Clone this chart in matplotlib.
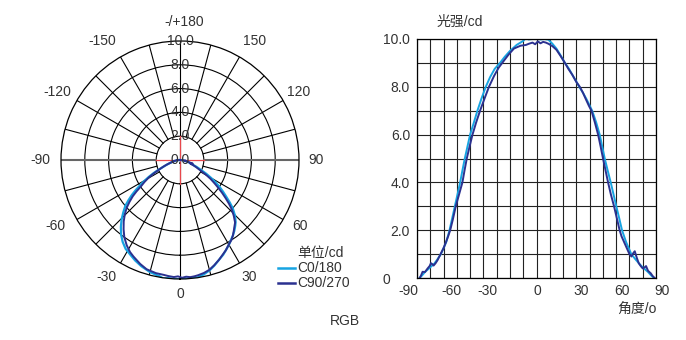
import numpy as np
import matplotlib.pyplot as plt
from matplotlib.lines import Line2D
from matplotlib.transforms import ScaledTranslation

plt.rcParams['font.family'] = ['Liberation Sans', 'Noto Sans CJK SC', 'DejaVu Sans']

# C0/180 curve (angle in degrees, intensity in cd)
c0_angle = [-88, -86, -84, -82, -80, -77, -75, -72, -70, -68, -65.5, -63.5, -61.5,
            -59.5, -57.5, -55.8, -54, -52, -50, -47.2, -44.5, -41.5, -38.2, -35,
            -31.5, -27.5, -24, -20, -15, -10, -8, -6, -3, 0, 3, 6, 9, 12, 15, 18,
            21.4, 24.5, 27, 30, 32.2, 35, 37.5, 40, 41.9, 43.5, 45, 47.6, 49.5,
            51.4, 53.6, 55.9, 58, 60.1, 62.3, 64.4, 67.5, 71.4, 75, 79, 84, 86.5, 88.5]
c0_value = [0.0, 0.12, 0.25, 0.35, 0.45, 0.6, 0.75, 1.0, 1.25, 1.5, 2.0, 2.5, 3.0,
            3.5, 4.0, 4.5, 5.0, 5.5, 6.0, 6.5, 7.0, 7.5, 8.0, 8.4,
            8.75, 9.0, 9.25, 9.5, 9.75, 9.92, 10.05, 9.98, 10.0, 10.02, 9.98, 10.0, 9.97, 9.8, 9.6, 9.33,
            9.0, 8.75, 8.5, 8.22, 8.0, 7.75, 7.5, 7.22, 7.0, 6.75, 6.5, 6.0, 5.5,
            5.0, 4.5, 4.0, 3.5, 3.0, 2.5, 2.0, 1.5, 1.0, 0.75, 0.5, 0.25, 0.1, 0.0]

# C90/270 curve
c90_angle = [-88, -87, -85.8, -84, -82, -80.5, -79.5, -78.5, -77.5, -76, -74.5, -72,
             -70, -68.2, -66.5, -65, -63, -60.8, -58.3, -55.8, -54.2, -52.5, -50.4,
             -48.2, -45.5, -42.5, -39.2, -35.8, -32, -28.5, -25.8, -21, -17, -12, -8,
             -5.8, -3, -1, 1, 3, 5, 7, 9, 12, 15, 18, 21.4, 24, 27, 30, 32.6, 35, 37,
             39.5, 41.4, 44, 46.4, 48.3, 50.1, 52, 53.9, 56, 58.4, 60.5, 62.6, 64, 66,
             68, 70, 71.5, 73, 74, 75.5, 77, 78.5, 80, 81.5, 82.5, 84, 86, 87.5, 89]
c90_value = [0.0, 0.1, 0.26, 0.25, 0.4, 0.5, 0.62, 0.58, 0.52, 0.62, 0.75, 1.03,
             1.25, 1.5, 1.75, 2.0, 2.45, 3.0, 3.5, 4.0, 4.5, 5.0, 5.5,
             6.0, 6.5, 7.0, 7.5, 8.0, 8.45, 8.8, 9.0, 9.35, 9.6, 9.72, 9.75,
             9.8, 9.85, 9.78, 9.9, 9.82, 9.88, 9.85, 9.8, 9.7, 9.55, 9.3, 9.0, 8.75, 8.5, 8.2, 8.0, 7.75, 7.5,
             7.2, 7.0, 6.5, 6.0, 5.5, 5.0, 4.5, 4.0, 3.5, 3.0, 2.5, 2.0, 1.75, 1.5,
             1.25, 1.0, 0.9, 1.05, 1.12, 0.85, 0.62, 0.5, 0.4, 0.45, 0.5, 0.3, 0.2, 0.08, 0.0]

polar_angles = [0, 30, 60, 90, 120, 150, 180, 210, 240, 270, 300, 330]
polar_labels = ['0', '30', '60', '90', '120', '150', '-/+180', '-150', '-120', '-90', '-60', '-30']
# where each angle label sits (angle, radius) around the outer ring
label_theta = [0, 30.5, 61, 90, 119.7, 148, 178.3, 213, 241, 270, 298, 328]
label_r = [11.26, 11.4, 11.5, 11.4, 11.5, 11.75, 11.6, 11.95, 11.75, 11.75, 11.85, 11.6]
r_ticks = [0, 2, 4, 6, 8, 10]
x_ticks = [-90, -60, -30, 0, 30, 60, 90]
x_shift = [-9, -5, -9, 1, 5, 6, 6]  # px nudges of the x tick labels
y_ticks = [0, 2, 4, 6, 8, 10]
y_labels = ['0', '2.0', '4.0', '6.0', '8.0', '10.0']

light = '#17a4e2'
dark = '#2b3190'
txt = '#333333'

fig = plt.figure(figsize=(6.86, 3.40), dpi=100)

# polar diagram
ax = fig.add_axes([61 / 686, 61 / 340, 238 / 686, 238 / 340], projection='polar')
ax.set_theta_zero_location('S')
ax.set_theta_direction(1)
ax.set_ylim(0, 10)
ax.set_xticks([])
ax.set_yticks([2, 4, 6, 8])
ax.set_yticklabels([])
ax.yaxis.grid(True, color='k', lw=0.8)
ax.spines['polar'].set_linewidth(0.9)
ax.spines['polar'].set_color('k')

for a in range(15, 360, 15):
    if a % 90 == 0:
        continue
    th = np.deg2rad(a)
    ax.plot([th, th], [2, 10], color='k', lw=0.8)
for a in (0, 180):
    ax.plot([np.deg2rad(a)] * 2, [0, 10], color='k', lw=0.8)
for a in (90, 270):
    ax.plot([np.deg2rad(a)] * 2, [2, 10], color='#666666', lw=1.5)
for a in (0, 90, 180, 270):
    ax.plot([np.deg2rad(a)] * 2, [0, 2], color='#e8474c', lw=0.9)

ax.plot(np.deg2rad(c0_angle), c0_value, color=light, lw=1.6)
ax.plot(np.deg2rad(c90_angle), c90_value, color=dark, lw=1.4)

for r in r_ticks:
    ax.text(np.pi, r, '%.1f' % r, ha='center', va='center', fontsize=10, color=txt)
for th, rr, lab in zip(label_theta, label_r, polar_labels):
    ax.text(np.deg2rad(th), rr, lab, ha='center', va='center', fontsize=10,
            color=txt, clip_on=False)

# legend
fig.text(297 / 686, 1 - 253 / 340, '单位/cd', fontsize=10, color=txt, va='center')
for yy, lab, col in ((268, 'C0/180', light), (283, 'C90/270', dark)):
    fig.add_artist(Line2D([278 / 686, 295 / 686], [1 - yy / 340] * 2, color=col, lw=1.8))
    fig.text(297 / 686, 1 - yy / 340, lab, fontsize=10, color=txt, va='center')
fig.text(345 / 686, 1 - 321 / 340, 'RGB', fontsize=10, color=txt, ha='center', va='center')

# rectangular diagram
bx = fig.add_axes([417 / 686, 62 / 340, 239 / 686, 239 / 340])
bx.plot(c0_angle, c0_value, color=light, lw=1.4)
bx.plot(c90_angle, c90_value, color=dark, lw=1.4)
bx.set_xlim(-90, 90)
bx.set_ylim(0, 10)
bx.set_xticks(np.arange(-90, 91, 10), minor=True)
bx.set_yticks(np.arange(0, 11, 1), minor=True)
bx.set_xticks(x_ticks)
bx.set_xticklabels([str(v) for v in x_ticks])
bx.set_yticks(y_ticks)
bx.set_yticklabels(y_labels)
bx.grid(True, which='both', color='#222222', lw=0.8)
bx.set_axisbelow(True)
bx.tick_params(which='both', length=0, labelsize=10, labelcolor=txt)
bx.tick_params(axis='y', pad=5)
bx.tick_params(axis='x', pad=4)
bx.yaxis.get_major_ticks()[0].set_pad(19.5)
for lbl, dx in zip(bx.get_xticklabels(), x_shift):
    lbl.set_transform(lbl.get_transform() + ScaledTranslation(dx / 100, 0, fig.dpi_scale_trans))
for s in bx.spines.values():
    s.set_linewidth(0.9)
    s.set_color('k')

fig.text(437 / 686, 1 - 22 / 340, '光强/cd', fontsize=10, color=txt, va='center')
fig.text(617 / 686, 1 - 310 / 340, '角度/o', fontsize=10, color=txt, va='center')

fig.savefig('out.png', dpi=100)
